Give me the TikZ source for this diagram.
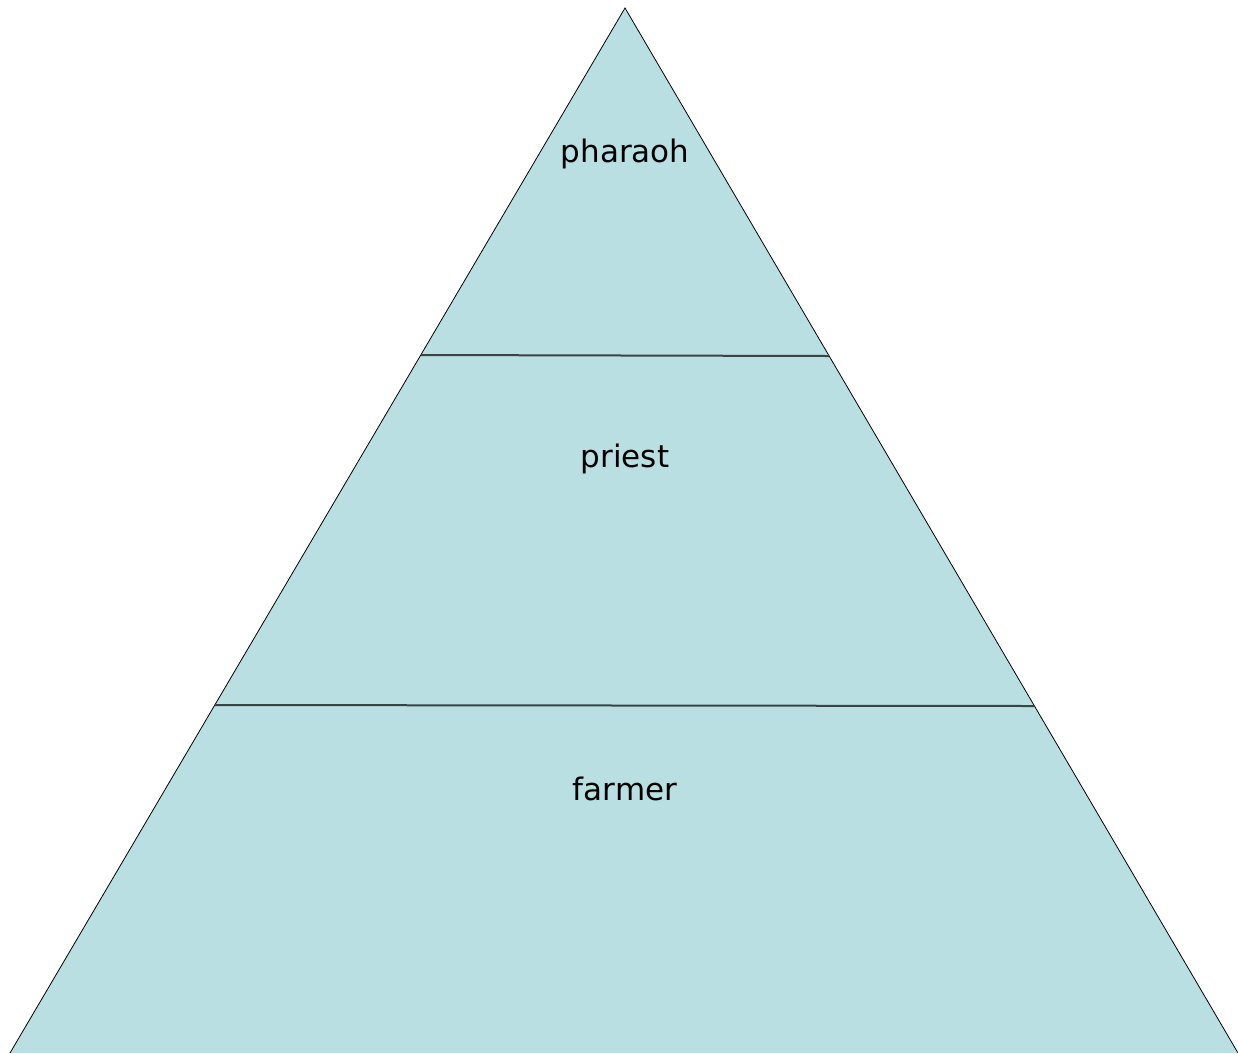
\documentclass[tikz,border=0pt]{standalone}
\usepackage{fontspec}
\setmainfont{DejaVu Sans}
\definecolor{tierfill}{HTML}{BADFE3}
\definecolor{tierline}{HTML}{3A4444}
\begin{document}
\begin{tikzpicture}[x=1pt,y=-1pt,
  tierlabel/.style={anchor=base,font=\fontsize{31}{36}\selectfont},
  divider/.style={draw=tierline,line width=2pt}]
\useasboundingbox (0,0) rectangle (1238,1053);
% pyramid outline
\coordinate (apex) at (625,8);
\coordinate (bl) at (10,1053);
\coordinate (br) at (1238,1053);
\fill[tierfill] (apex) -- (br) -- (bl) -- cycle;
\draw[line width=0.8pt] (bl) -- (apex) -- (br);
% tier dividers
\coordinate (d1l) at (421,355);
\coordinate (d1r) at (829,356);
\coordinate (d2l) at (215,705);
\coordinate (d2r) at (1034,706);
\draw[divider] (d1l) -- (d1r);
\draw[divider] (d2l) -- (d2r);
% tier labels
\node[tierlabel] (pharaoh) at (625,162) {pharaoh};
\node[tierlabel] (priest) at (625,467) {priest};
\node[tierlabel] (farmer) at (625,800) {farmer};
\end{tikzpicture}
\end{document}
